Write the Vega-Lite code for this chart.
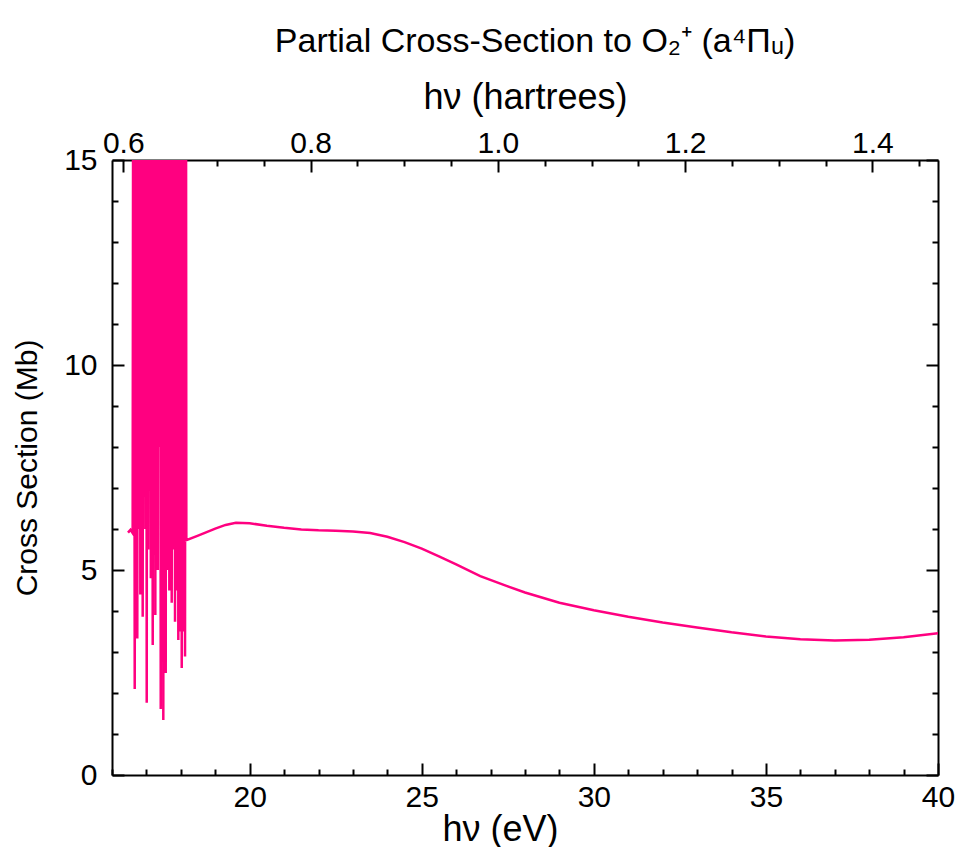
{
  "$schema": "https://vega.github.io/schema/vega-lite/v6.json",
  "autosize": "none",
  "width": 826,
  "height": 615,
  "padding": {"left": 112, "top": 160, "right": 19, "bottom": 72},
  "background": "white",
  "config": {
    "view": {"stroke": null},
    "font": "Liberation Sans",
    "axis": {
      "domainColor": "black",
      "domainWidth": 2,
      "tickColor": "black",
      "tickWidth": 2,
      "grid": false,
      "labelFont": "Liberation Sans",
      "labelColor": "black",
      "labelFontSize": 30,
      "labelOverlap": false,
      "labelFlush": false,
      "titleFont": "Liberation Sans",
      "titleColor": "black",
      "titleFontSize": 36,
      "titleFontWeight": "normal"
    }
  },
  "title": {
    "text": "Partial Cross-Section to O₂⁺ (a⁴Πᵤ)",
    "font": "Liberation Sans",
    "fontSize": 34,
    "fontWeight": "normal",
    "color": "black",
    "offset": 20,
    "dx": 10
  },
  "layer": [
    {
      "data": {
        "values": [
          {"ev": 16.465, "cs": 5.91},
          {"ev": 16.538, "cs": 5.98},
          {"ev": 16.600, "cs": 5.9},
          {"ev": 16.630, "cs": 30},
          {"ev": 16.660, "cs": 2.1},
          {"ev": 16.698, "cs": 30},
          {"ev": 16.735, "cs": 3.33},
          {"ev": 16.760, "cs": 30},
          {"ev": 16.785, "cs": 6.0},
          {"ev": 16.804, "cs": 30},
          {"ev": 16.823, "cs": 4.4},
          {"ev": 16.840, "cs": 30},
          {"ev": 16.858, "cs": 7.0},
          {"ev": 16.875, "cs": 30},
          {"ev": 16.892, "cs": 3.86},
          {"ev": 16.911, "cs": 30},
          {"ev": 16.930, "cs": 8.0},
          {"ev": 16.949, "cs": 30},
          {"ev": 16.968, "cs": 6.0},
          {"ev": 16.988, "cs": 30},
          {"ev": 17.009, "cs": 1.76},
          {"ev": 17.030, "cs": 30},
          {"ev": 17.052, "cs": 5.5},
          {"ev": 17.071, "cs": 30},
          {"ev": 17.090, "cs": 9.0},
          {"ev": 17.109, "cs": 30},
          {"ev": 17.128, "cs": 4.8},
          {"ev": 17.156, "cs": 30},
          {"ev": 17.183, "cs": 3.17},
          {"ev": 17.202, "cs": 30},
          {"ev": 17.221, "cs": 6.0},
          {"ev": 17.240, "cs": 30},
          {"ev": 17.259, "cs": 3.9},
          {"ev": 17.278, "cs": 30},
          {"ev": 17.297, "cs": 7.0},
          {"ev": 17.314, "cs": 30},
          {"ev": 17.331, "cs": 5.0},
          {"ev": 17.349, "cs": 30},
          {"ev": 17.366, "cs": 8.0},
          {"ev": 17.391, "cs": 30},
          {"ev": 17.416, "cs": 1.61},
          {"ev": 17.435, "cs": 30},
          {"ev": 17.453, "cs": 6.0},
          {"ev": 17.472, "cs": 30},
          {"ev": 17.491, "cs": 1.34},
          {"ev": 17.509, "cs": 30},
          {"ev": 17.526, "cs": 4.0},
          {"ev": 17.544, "cs": 30},
          {"ev": 17.561, "cs": 2.49},
          {"ev": 17.580, "cs": 30},
          {"ev": 17.599, "cs": 6.0},
          {"ev": 17.616, "cs": 30},
          {"ev": 17.634, "cs": 5.0},
          {"ev": 17.650, "cs": 30},
          {"ev": 17.666, "cs": 4.5},
          {"ev": 17.683, "cs": 30},
          {"ev": 17.701, "cs": 7.0},
          {"ev": 17.718, "cs": 30},
          {"ev": 17.735, "cs": 4.2},
          {"ev": 17.754, "cs": 30},
          {"ev": 17.773, "cs": 5.5},
          {"ev": 17.788, "cs": 30},
          {"ev": 17.802, "cs": 6.0},
          {"ev": 17.817, "cs": 30},
          {"ev": 17.831, "cs": 3.74},
          {"ev": 17.850, "cs": 30},
          {"ev": 17.869, "cs": 5.0},
          {"ev": 17.884, "cs": 30},
          {"ev": 17.898, "cs": 4.5},
          {"ev": 17.913, "cs": 30},
          {"ev": 17.927, "cs": 3.29},
          {"ev": 17.945, "cs": 30},
          {"ev": 17.962, "cs": 5.0},
          {"ev": 17.977, "cs": 30},
          {"ev": 17.991, "cs": 3.5},
          {"ev": 18.009, "cs": 30},
          {"ev": 18.026, "cs": 2.61},
          {"ev": 18.045, "cs": 30},
          {"ev": 18.064, "cs": 4.0},
          {"ev": 18.078, "cs": 30},
          {"ev": 18.093, "cs": 3.5},
          {"ev": 18.107, "cs": 30},
          {"ev": 18.122, "cs": 2.89},
          {"ev": 18.140, "cs": 30},
          {"ev": 18.160, "cs": 5.73},
          {"ev": 18.5, "cs": 5.84},
          {"ev": 19.0, "cs": 6.01},
          {"ev": 19.3, "cs": 6.1},
          {"ev": 19.6, "cs": 6.15},
          {"ev": 20.0, "cs": 6.14},
          {"ev": 20.5, "cs": 6.08},
          {"ev": 21.0, "cs": 6.03},
          {"ev": 21.5, "cs": 5.99},
          {"ev": 22.0, "cs": 5.97},
          {"ev": 22.5, "cs": 5.96},
          {"ev": 23.0, "cs": 5.94},
          {"ev": 23.5, "cs": 5.9},
          {"ev": 24.0, "cs": 5.81},
          {"ev": 24.5, "cs": 5.68},
          {"ev": 25.0, "cs": 5.52},
          {"ev": 25.5, "cs": 5.33},
          {"ev": 26.0, "cs": 5.14},
          {"ev": 26.7, "cs": 4.85},
          {"ev": 27.5, "cs": 4.6},
          {"ev": 28.0, "cs": 4.45},
          {"ev": 29.0, "cs": 4.2},
          {"ev": 30.0, "cs": 4.02},
          {"ev": 31.0, "cs": 3.86},
          {"ev": 32.0, "cs": 3.72},
          {"ev": 33.0, "cs": 3.6},
          {"ev": 34.0, "cs": 3.48},
          {"ev": 35.0, "cs": 3.38},
          {"ev": 36.0, "cs": 3.31},
          {"ev": 37.0, "cs": 3.28},
          {"ev": 38.0, "cs": 3.3},
          {"ev": 39.0, "cs": 3.36},
          {"ev": 40.0, "cs": 3.46}
        ]
      },
      "mark": {"type": "line", "color": "#ff0080", "strokeWidth": 2.5, "clip": true},
      "encoding": {
        "x": {
          "field": "ev",
          "type": "quantitative",
          "sort": null,
          "scale": {"domain": [16, 40], "nice": false, "zero": false},
          "axis": {
            "orient": "bottom",
            "values": [16,17,18,19,20,21,22,23,24,25,26,27,28,29,30,31,32,33,34,35,36,37,38,39,40],
            "tickSize": {"condition": {"test": "datum.value % 5 === 0", "value": -12}, "value": -6},
            "labelExpr": "datum.value % 5 === 0 ? datum.label : ''",
            "labelPadding": 19,
            "title": "hν (eV)",
            "titleBaseline": "alphabetic",
            "titleAlign": "center",
            "titleX": 388,
            "titleY": 65
          }
        },
        "y": {
          "field": "cs",
          "type": "quantitative",
          "scale": {"domain": [0, 15], "nice": false, "zero": false},
          "axis": {
            "orient": "left",
            "values": [0,1,2,3,4,5,6,7,8,9,10,11,12,13,14,15],
            "tickSize": {"condition": {"test": "datum.value % 5 === 0", "value": -12}, "value": -6},
            "labelExpr": "datum.value % 5 === 0 ? datum.label : ''",
            "labelPadding": 27,
            "title": "Cross Section (Mb)",
            "titleFontSize": 30,
            "titleBaseline": "alphabetic",
            "titleX": -76
          }
        }
      }
    },
    {
      "data": {"values": [{"hartree": 0.6, "cs": 0}]},
      "mark": {"type": "point", "opacity": 0},
      "encoding": {
        "x": {
          "field": "hartree",
          "type": "quantitative",
          "scale": {"domain": [0.58799, 1.46998], "nice": false, "zero": false},
          "axis": {
            "orient": "top",
            "values": [0.6,0.65,0.7,0.75,0.8,0.85,0.9,0.95,1.0,1.05,1.1,1.15,1.2,1.25,1.3,1.35,1.4,1.45],
            "tickSize": {"condition": {"test": "abs(datum.value*5 - round(datum.value*5)) < 0.001", "value": -12}, "value": -6},
            "labelExpr": "abs(datum.value*5 - round(datum.value*5)) < 0.001 ? format(datum.value, '.1f') : ''",
            "labelPadding": 14,
            "title": "hν (hartrees)",
            "titleBaseline": "alphabetic",
            "titleY": -52
          }
        },
        "y": {
          "field": "cs",
          "type": "quantitative",
          "axis": {
            "orient": "right",
            "values": [0,1,2,3,4,5,6,7,8,9,10,11,12,13,14,15],
            "tickSize": {"condition": {"test": "datum.value % 5 === 0", "value": -12}, "value": -6},
            "labels": false,
            "title": null
          }
        }
      }
    }
  ],
  "resolve": {
    "scale": {"x": "independent"},
    "axis": {"x": "independent", "y": "independent"}
  }
}
